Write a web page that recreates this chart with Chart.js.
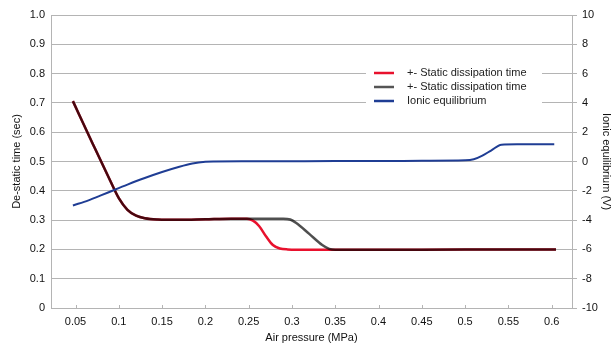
<!DOCTYPE html>
<html lang="en">
<head>
    <meta charset="UTF-8">
    <title>De-static time vs air pressure</title>
    <script src="https://cdn.jsdelivr.net/npm/chart.js"></script>
    <style>
        html, body { margin: 0; padding: 0; background: #fff; }
        .chart-container { width: 612px; height: 346px; }
    </style>
</head>
<body>

    <div class="chart-container">
        <canvas id="pressureChart"></canvas>
    </div>

    <script>
        // tick values on the x axis (MPa)
        const pressureTicks = [0.05, 0.1, 0.15, 0.2, 0.25, 0.3, 0.35, 0.4, 0.45, 0.5, 0.55, 0.6];

        // +- Static dissipation time (red)
        const redPressure = [0.047, 0.07, 0.09, 0.1, 0.11, 0.12, 0.13, 0.145, 0.17, 0.2, 0.23, 0.248,
                             0.255, 0.262, 0.27, 0.278, 0.286, 0.295, 0.32, 0.35, 0.45, 0.55, 0.605];
        const redTime = [0.706, 0.56, 0.435, 0.375, 0.335, 0.315, 0.306, 0.302, 0.301, 0.303, 0.305, 0.305,
                         0.298, 0.28, 0.245, 0.215, 0.203, 0.2, 0.199, 0.199, 0.199, 0.2, 0.2];

        // +- Static dissipation time (grey)
        const grayPressure = [0.047, 0.07, 0.09, 0.1, 0.11, 0.12, 0.13, 0.145, 0.17, 0.2, 0.23, 0.248,
                              0.27, 0.29, 0.298, 0.305, 0.32, 0.335, 0.343, 0.35, 0.45, 0.55, 0.605];
        const grayTime = [0.706, 0.56, 0.435, 0.375, 0.335, 0.315, 0.306, 0.302, 0.301, 0.303, 0.305, 0.305,
                          0.305, 0.305, 0.302, 0.29, 0.253, 0.215, 0.202, 0.199, 0.199, 0.2, 0.2];

        // Ionic equilibrium (V)
        const bluePressure = [0.047, 0.065, 0.08, 0.094, 0.11, 0.13, 0.15, 0.17, 0.185, 0.2, 0.21, 0.25, 0.3, 0.35,
                              0.4, 0.45, 0.5, 0.51, 0.52, 0.53, 0.542, 0.56, 0.603];
        const blueVolt = [-3.0, -2.65, -2.3, -1.96, -1.58, -1.13, -0.72, -0.36, -0.14, -0.02, 0, 0.01, 0.02, 0.03,
                          0.03, 0.05, 0.08, 0.15, 0.4, 0.75, 1.15, 1.17, 1.17];

        const seriesLabels = ['+- Static dissipation time', '+- Static dissipation time', 'Ionic equilibrium'];

        const FONT = 'Liberation Sans, Arial, sans-serif';
        const GRID = '#b4b4b4';

        function toPoints(xs, ys) {
            return xs.map((x, i) => ({ x: x, y: ys[i] }));
        }

        // grey line multiplies over red, so the overlap comes out dark maroon
        const multiplyPlugin = {
            id: 'multiply',
            beforeDatasetDraw(chart, args) {
                if (args.index === 1) {
                    chart.ctx.save();
                    chart.ctx.globalCompositeOperation = 'multiply';
                }
            },
            afterDatasetDraw(chart, args) {
                if (args.index === 1) chart.ctx.restore();
            }
        };

        // small inner tick marks on the x axis + legend box inside the plot
        const decorPlugin = {
            id: 'decor',
            afterDatasetsDraw(chart) {
                const ctx = chart.ctx;
                const xs = chart.scales.x;
                const bottom = chart.chartArea.bottom;
                ctx.save();
                ctx.strokeStyle = GRID;
                ctx.lineWidth = 1;
                pressureTicks.forEach(v => {
                    const px = Math.round(xs.getPixelForValue(v)) + 0.5;
                    ctx.beginPath();
                    ctx.moveTo(px, bottom - 3);
                    ctx.lineTo(px, bottom);
                    ctx.stroke();
                });

                // legend
                ctx.fillStyle = '#fff';
                ctx.fillRect(366, 63, 176, 47);
                ctx.font = '11px ' + FONT;
                ctx.textBaseline = 'middle';
                ctx.textAlign = 'left';
                const rows = [73, 87, 101];
                chart.data.datasets.forEach((ds, i) => {
                    ctx.strokeStyle = ds.legendColor;
                    ctx.lineWidth = 2.5;
                    ctx.beginPath();
                    ctx.moveTo(374, rows[i]);
                    ctx.lineTo(394, rows[i]);
                    ctx.stroke();
                    ctx.fillStyle = '#222';
                    ctx.fillText(ds.label, 407, rows[i]);
                });
                ctx.restore();
            }
        };

        function initChart() {
            const ctx = document.getElementById('pressureChart').getContext('2d');
            new Chart(ctx, {
                type: 'line',
                data: {
                    datasets: [{
                        label: seriesLabels[0],
                        data: toPoints(redPressure, redTime),
                        borderColor: '#e8112d',
                        legendColor: '#e8112d',
                        borderWidth: 2.5,
                        yAxisID: 'y',
                        order: 3
                    }, {
                        label: seriesLabels[1],
                        data: toPoints(grayPressure, grayTime),
                        borderColor: '#4f4f4f',
                        legendColor: '#555555',
                        borderWidth: 2.5,
                        yAxisID: 'y',
                        order: 2
                    }, {
                        label: seriesLabels[2],
                        data: toPoints(bluePressure, blueVolt),
                        borderColor: '#1f3d94',
                        legendColor: '#1f3d94',
                        borderWidth: 2,
                        yAxisID: 'y2',
                        order: 1
                    }]
                },
                options: {
                    responsive: true,
                    maintainAspectRatio: false,
                    animation: false,
                    events: [],
                    layout: { padding: { top: 15, right: 0, bottom: 0, left: 0 } },
                    elements: {
                        point: { radius: 0 },
                        line: { cubicInterpolationMode: 'monotone', fill: false }
                    },
                    plugins: {
                        legend: { display: false },
                        tooltip: { enabled: false }
                    },
                    scales: {
                        x: {
                            type: 'linear',
                            min: 0.0217,
                            max: 0.6235,
                            afterBuildTicks: s => { s.ticks = pressureTicks.map(v => ({ value: v })); },
                            afterFit: s => { s.height = 38; },
                            grid: { display: false, drawTicks: false },
                            border: { display: true, color: GRID },
                            ticks: {
                                padding: 7,
                                maxRotation: 0,
                                autoSkip: false,
                                color: '#111',
                                font: { family: FONT, size: 11 },
                                callback: v => String(parseFloat(v.toFixed(2)))
                            },
                            title: {
                                display: true,
                                text: 'Air pressure (MPa)',
                                color: '#111',
                                font: { family: FONT, size: 11 },
                                padding: { top: 0, bottom: 1 }
                            }
                        },
                        y: {
                            position: 'left',
                            min: 0,
                            max: 1,
                            afterFit: s => { s.width = 51; },
                            grid: { color: GRID, drawTicks: false },
                            border: { display: true, color: GRID },
                            ticks: {
                                stepSize: 0.1,
                                padding: 6,
                                color: '#111',
                                font: { family: FONT, size: 11 },
                                callback: v => v === 0 ? '0' : v.toFixed(1)
                            },
                            title: {
                                display: true,
                                text: 'De-static time (sec)',
                                color: '#111',
                                font: { family: FONT, size: 11 },
                                padding: { top: 10, bottom: 0 }
                            }
                        },
                        y2: {
                            position: 'right',
                            min: -10,
                            max: 10,
                            afterFit: s => { s.width = 40; },
                            grid: { drawOnChartArea: false, color: GRID, tickLength: 5 },
                            border: { display: true, color: GRID },
                            ticks: {
                                stepSize: 2,
                                padding: 5,
                                color: '#111',
                                font: { family: FONT, size: 11 }
                            },
                            title: {
                                display: true,
                                text: 'Ionic equilibrium (V)',
                                color: '#111',
                                font: { family: FONT, size: 11 },
                                padding: { top: -1, bottom: 0 }
                            }
                        }
                    }
                },
                plugins: [multiplyPlugin, decorPlugin]
            });
        }

        window.onload = initChart;
    </script>

</body>
</html>
